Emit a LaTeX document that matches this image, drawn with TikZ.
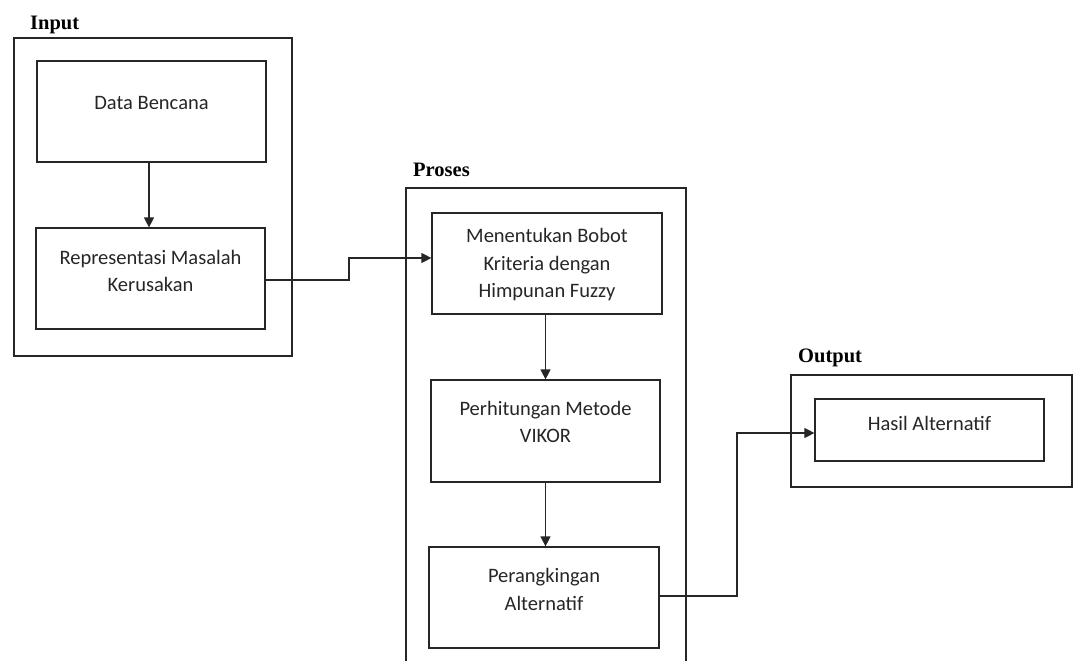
\documentclass[tikz,border=0pt]{standalone}
\usepackage{fontspec}
\setmainfont{Carlito}
\newfontfamily\labelfont{Liberation Serif}
\usetikzlibrary{arrows.meta}
\tikzset{
  box/.style={draw=black!85, line width=1.2pt, rectangle, inner sep=0pt},
  txt/.style={text=black!85, font=\fontsize{20.5}{27.5}\selectfont, align=center, inner sep=0pt, anchor=base},
  grp/.style={text=black, font=\labelfont\bfseries\fontsize{20.5}{24}\selectfont, inner sep=0pt, anchor=base west},
  arr/.style={draw=black!85, line width=1.2pt, -{Triangle[length=10pt,width=10pt]}},
  ln/.style={draw=black!85, line width=1.2pt}
}
\begin{document}
\begin{tikzpicture}[x=1pt,y=-1pt]
\useasboundingbox (0,0) rectangle (1077,661);
\fill[white] (0,0) rectangle (1077,661);
\clip (0,0) rectangle (1077,661);
% group frames
\node[box, minimum width=278pt, minimum height=318pt] (inp) at (153,197) {};
\draw[ln] (406,700) -- (406,188) -- (686,188) -- (686,700);
\coordinate (prs) at (546,188);
\node[box, minimum width=281pt, minimum height=112pt] (out) at (931.5,431) {};
% group labels
\node[grp] (linp) at (30,29.5) {Input};
\node[grp] (lprs) at (413,176.5) {Proses};
\node[grp] (lout) at (798,362.5) {Output};
% boxes
\node[box, minimum width=229pt, minimum height=101pt] (db) at (151.5,111.5) {};
\node[box, minimum width=229pt, minimum height=101pt] (rm) at (150.5,278.5) {};
\node[box, minimum width=230pt, minimum height=101pt] (mb) at (547,263.5) {};
\node[box, minimum width=229pt, minimum height=102pt] (pv) at (545.5,431) {};
\node[box, minimum width=230pt, minimum height=101pt] (pa) at (544,597.5) {};
\node[box, minimum width=229pt, minimum height=62pt] (ha) at (929.5,430) {};
% texts (base anchor = baseline of last line)
\node[txt] (tdb) at (151.5,110) {Data Bencana};
\node[txt] (trm) at (150.5,291.5) {Representasi Masalah\\Kerusakan};
\node[txt] (tmb) at (547,297.5) {Menentukan Bobot\\Kriteria dengan\\Himpunan Fuzzy};
\node[txt] (tpv) at (545.5,442.5) {Perhitungan Metode\\VIKOR};
\node[txt] (tpa) at (544,610) {Perangkingan\\Alternatif};
\node[txt] (tha) at (929.5,430) {Hasil Alternatif};
% connectors
\draw[arr] ([xshift=-2.5pt]db.south) -- ([xshift=-2.5pt]db.south |- rm.north);
\draw[arr] ([xshift=-1.5pt]mb.south) -- ([xshift=-1.5pt]mb.south |- pv.north);
\draw[arr] (pv.south) -- (pv.south |- pa.north);
\coordinate (j1) at (349,280);
\draw[arr] ([yshift=-1.5pt]rm.east) -- (j1) |- ([yshift=5.5pt]mb.west);
\coordinate (j2) at (737,596);
\draw[arr] ([yshift=1.5pt]pa.east) -- (j2) |- ([yshift=-3pt]ha.west);
\end{tikzpicture}
\end{document}
